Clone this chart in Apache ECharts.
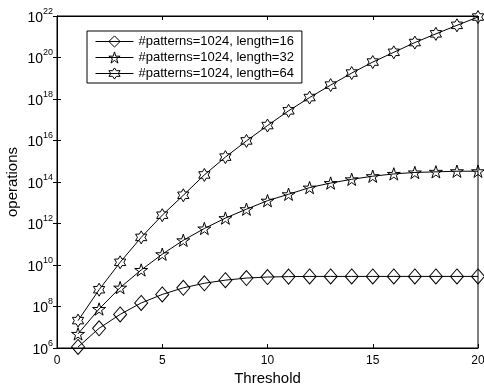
<!DOCTYPE html>
<html>
<head>
<meta charset="utf-8">
<script src="https://cdn.jsdelivr.net/npm/echarts@6/dist/echarts.min.js"></script>
<style>
  html, body { margin: 0; padding: 0; background: #fff; }
  #chart { width: 484px; height: 387px; }
</style>
</head>
<body>
<div id="chart"></div>
<script>
// Threshold values on the x axis
const thresholds = [1, 2, 3, 4, 5, 6, 7, 8, 9, 10, 11, 12, 13, 14, 15, 16, 17, 18, 19, 20];

// log10(operations) for each pattern length
const logOpsLen16 = [6.05, 6.95, 7.62, 8.17, 8.58, 8.90, 9.12, 9.27, 9.37, 9.42,
                     9.44, 9.45, 9.45, 9.45, 9.45, 9.45, 9.45, 9.45, 9.45, 9.45];
const logOpsLen32 = [6.68, 7.88, 8.91, 9.76, 10.52, 11.19, 11.76, 12.26, 12.69, 13.10,
                     13.41, 13.73, 13.95, 14.13, 14.28, 14.39, 14.46, 14.49, 14.52, 14.52];
const logOpsLen64 = [7.32, 8.81, 10.13, 11.33, 12.40, 13.36, 14.34, 15.20, 15.98, 16.72,
                     17.43, 18.07, 18.67, 19.25, 19.78, 20.25, 20.72, 21.14, 21.55, 21.95];

const seriesNames = [
  '#patterns=1024, length=16',
  '#patterns=1024, length=32',
  '#patterns=1024, length=64'
];

const xTicks = [0, 5, 10, 15, 20];
const yTickExponents = [6, 8, 10, 12, 14, 16, 18, 20, 22];

const FONT = '"Liberation Sans", Arial, Helvetica, sans-serif';

// n-pointed star outline as an SVG path
function starPath(n, inner) {
  let d = '';
  for (let i = 0; i < 2 * n; i++) {
    const r = (i % 2) ? 50 * inner : 50;
    const a = -Math.PI / 2 + i * Math.PI / n;
    d += (i ? 'L' : 'M') + (50 + r * Math.cos(a)).toFixed(2) + ' ' + (50 + r * Math.sin(a)).toFixed(2) + ' ';
  }
  return 'path://' + d + 'Z';
}
const pentagram = starPath(5, 0.382);
const hexagram = starPath(6, 0.577);

function toPoints(logs) {
  return thresholds.map((t, i) => [t, Math.pow(10, logs[i])]);
}

const hollow = { color: 'rgba(255,255,255,0)', borderColor: '#000', borderWidth: 1 };

function makeSeries(name, logs, symbol, size) {
  return {
    name: name,
    type: 'line',
    data: toPoints(logs),
    symbol: symbol,
    symbolSize: size,
    symbolKeepAspect: true,
    showAllSymbol: true,
    clip: false,
    lineStyle: { color: '#000', width: 1 },
    itemStyle: hollow,
    emphasis: { disabled: true },
    animation: false
  };
}

const chart = echarts.init(document.getElementById('chart'), null, { renderer: 'canvas' });

const baseXAxis = {
  type: 'value',
  min: xTicks[0],
  max: xTicks[xTicks.length - 1],
  interval: xTicks[1] - xTicks[0],
  axisLine: { lineStyle: { color: '#000', width: 1 } },
  axisTick: { inside: true, length: 4, lineStyle: { color: '#000' } },
  splitLine: { show: false }
};
const baseYAxis = {
  type: 'log',
  logBase: 10,
  min: Math.pow(10, yTickExponents[0]),
  max: Math.pow(10, yTickExponents[yTickExponents.length - 1]),
  interval: yTickExponents[1] - yTickExponents[0],
  axisLine: { lineStyle: { color: '#000', width: 1 } },
  axisTick: { inside: true, length: 4, lineStyle: { color: '#000' } },
  minorTick: { show: false },
  splitLine: { show: false }
};

chart.setOption({
  animation: false,
  backgroundColor: '#fff',
  textStyle: { fontFamily: FONT },
  grid: {
    left: 57, right: 6, top: 16, bottom: 39,
    outerBoundsMode: 'none',
    containLabel: false,
    show: true, borderColor: '#000', borderWidth: 1, backgroundColor: 'transparent'
  },
  legend: {
    orient: 'vertical',
    left: 87,
    top: 31,
    padding: [4, 8, 3, 8],
    itemGap: 3,
    itemWidth: 38,
    itemHeight: 14,
    borderColor: '#000',
    borderWidth: 1,
    backgroundColor: '#fff',
    itemStyle: hollow,
    lineStyle: { color: '#000', width: 1 },
    textStyle: { fontSize: 13, color: '#000', fontFamily: FONT },
    data: seriesNames
  },
  xAxis: [
    Object.assign({}, baseXAxis, {
      position: 'bottom',
      name: 'Threshold',
      nameLocation: 'middle',
      nameGap: 23,
      nameMoveOverlap: false,
      nameTextStyle: { fontSize: 15, color: '#000', fontFamily: FONT },
      axisLabel: { fontSize: 12, color: '#000', margin: 7, fontFamily: FONT }
    }),
    Object.assign({}, baseXAxis, { position: 'top', axisLabel: { show: false } })
  ],
  yAxis: [
    Object.assign({}, baseYAxis, {
      position: 'left',
      name: 'operations',
      nameLocation: 'middle',
      nameGap: 37,
      nameMoveOverlap: false,
      nameTextStyle: { fontSize: 15, color: '#000', fontFamily: FONT },
      axisLabel: {
        margin: 4,
        color: '#000',
        formatter: function (v) {
          const e = Math.round(Math.log10(v));
          return '{b|10}{e|' + e + '}';
        },
        rich: {
          b: { fontSize: 14, color: '#000', fontFamily: FONT, lineHeight: 18, verticalAlign: 'bottom' },
          e: { fontSize: 9, color: '#000', fontFamily: FONT, lineHeight: 18, verticalAlign: 'top' }
        }
      }
    }),
    Object.assign({}, baseYAxis, { position: 'right', axisLabel: { show: false } })
  ],
  series: [
    makeSeries(seriesNames[0], logOpsLen16, 'diamond', [13, 15]),
    makeSeries(seriesNames[1], logOpsLen32, pentagram, 13),
    makeSeries(seriesNames[2], logOpsLen64, hexagram, 13)
  ]
});
</script>
</body>
</html>
